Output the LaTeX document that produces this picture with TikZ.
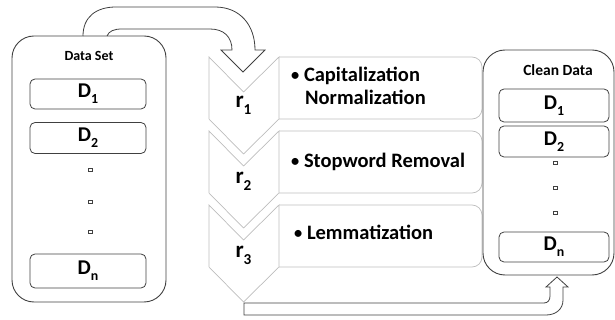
\documentclass[tikz,border=0pt]{standalone}
\usepackage{fontspec}
\setmainfont{Carlito}
\usepackage{tikz}
\usetikzlibrary{positioning,calc}

\definecolor{edge}{HTML}{404040}
\definecolor{stepgray}{HTML}{BDBDBD}

% subscript set low, as in the slides
\newcommand{\lowsub}[1]{\raisebox{-0.28em}{\scalebox{0.66}{#1}}}
\newcommand{\smallbullet}{\raisebox{0.08em}{\scalebox{0.8}{\textbullet}}}

\tikzset{
    holder/.style={draw=edge, line width=0.9pt, rounded corners=22pt, inner sep=0pt},
    item/.style={draw=edge, line width=0.8pt, rounded corners=5pt, inner sep=0pt,
        font=\fontsize{21}{24}\selectfont\bfseries},
    dot/.style={draw=edge, rectangle, minimum size=3.6pt, inner sep=0pt, line width=0.6pt},
    title/.style={font=\fontsize{14}{16}\selectfont\bfseries},
    stepline/.style={draw=stepgray, line width=0.7pt},
    stepname/.style={anchor=base, font=\fontsize{23}{26}\selectfont\bfseries},
    steptext/.style={anchor=base west, inner sep=0pt, font=\fontsize{20.5}{24}\selectfont\bfseries},
    bigarrow/.style={draw=edge, line width=0.8pt}
}

\begin{document}
\begin{tikzpicture}[x=1pt, y=-1pt]
    \useasboundingbox (0,0) rectangle (615,320);

    % Data set
    \node[holder, minimum width=154pt, minimum height=266pt] (dataset) at (89,169) {};
    \node[title] (dstitle) at (89,56) {Data Set};
    \node[item, minimum width=116pt, minimum height=30pt] (d1) at (88,94) {D\lowsub{1}};
    \node[item, minimum width=116pt, minimum height=31pt] (d2) at (88,138) {D\lowsub{2}};
    \node[item, minimum width=116pt, minimum height=34pt] (dn) at (88,271) {D\lowsub{n}};
    \foreach \y in {170,202,232} \node[dot] at (90,\y) {};

    % Arrow into the steps
    \draw[bigarrow] (83,36) .. controls (83,17) and (96,7) .. (116,7) -- (215,7)
        .. controls (240,7) and (255,25) .. (255,50) -- (265,50) -- (243,72) -- (221,50)
        -- (232,50) .. controls (232,37) and (224,29) .. (210,29) -- (122,29)
        .. controls (114,29) and (109,31) .. (107,36);

    % Steps
    \foreach \t/\n in {57/1,131/2,205/3} {
        \draw[stepline] (209,\t) -- (243.5,\t+35) -- (279,\t) -- (279,\t+62)
            -- (243.5,\t+97) -- (209,\t+62) -- cycle;
        \draw[stepline, rounded corners=10pt] (279,\t) -- (482,\t) -- (482,\t+62) -- (279,\t+62);
    }
    \node[stepname] (r1) at (243.5,108) {r\lowsub{1}};
    \node[stepname] (r2) at (243.5,184) {r\lowsub{2}};
    \node[stepname] (r3) at (243.5,258) {r\lowsub{3}};

    \node[steptext] (cap) at (291,82) {\smallbullet\ Capitalization};
    \node[steptext] (norm) at (305,105) {Normalization};
    \node[steptext] (stop) at (291,168) {\smallbullet\ Stopword Removal};
    \node[steptext] (lem) at (294,240) {\smallbullet\ Lemmatization};

    % Arrow out of the steps
    \draw[bigarrow] (244,303) -- (544,303) .. controls (548,303) and (550,300) .. (550,296)
        -- (550,287) -- (546,287) -- (557,277) -- (568,287) -- (563,287) -- (563,300)
        .. controls (563,309) and (556,315) .. (546,315) -- (244,315) -- cycle;

    % Clean data
    \node[holder, minimum width=131pt, minimum height=225pt] (clean) at (548.5,162.5) {};
    \node[title, font=\fontsize{15.5}{18}\selectfont\bfseries] (cltitle) at (558,70) {Clean Data};
    \node[item, minimum width=110pt, minimum height=33pt] (c1) at (554,105.5) {D\lowsub{1}};
    \node[item, minimum width=110pt, minimum height=31pt] (c2) at (554,141.5) {D\lowsub{2}};
    \node[item, minimum width=110pt, minimum height=30pt] (cn) at (554,247) {D\lowsub{n}};
    \foreach \y in {163,188,213} \node[dot] at (555,\y) {};
\end{tikzpicture}
\end{document}
